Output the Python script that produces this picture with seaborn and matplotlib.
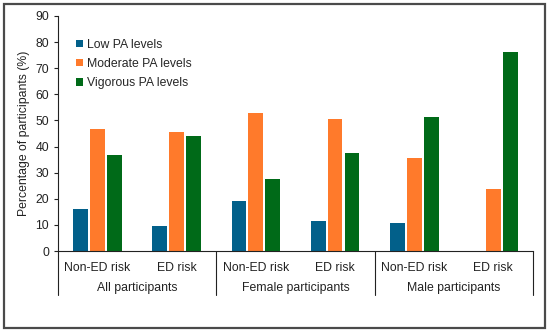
import matplotlib
matplotlib.use("Agg")
import matplotlib.pyplot as plt
import matplotlib.transforms as mtransforms
from matplotlib.patches import Rectangle
import seaborn as sns
import pandas as pd

groups = ["All participants", "Female participants", "Male participants"]
risks = ["Non-ED risk", "ED risk"]
levels = ["Low PA levels", "Moderate PA levels", "Vigorous PA levels"]
low_vals = [16.0, 9.7, 19.1, 11.7, 10.7, 0.0]
moderate_vals = [46.6, 45.7, 52.7, 50.4, 35.7, 23.6]
vigorous_vals = [36.8, 44.2, 27.5, 37.4, 51.4, 76.2]
colors = ["#02608A", "#FF7A2B", "#006A18"]

cats = [f"{g}|{r}" for g in groups for r in risks]
rows = []
for lvl, vals in zip(levels, [low_vals, moderate_vals, vigorous_vals]):
    for c, v in zip(cats, vals):
        rows.append({"cat": c, "level": lvl, "value": v})
df = pd.DataFrame(rows)

sns.set_style("ticks")
plt.rcParams["font.family"] = ["Liberation Sans", "DejaVu Sans"]

fig = plt.figure(figsize=(5.5, 3.33), dpi=100)
ax = fig.add_axes([0.1055, 0.246, 0.8635, 0.706])

sns.barplot(data=df, x="cat", y="value", hue="level", order=cats,
            hue_order=levels, palette=colors, width=0.64, gap=0.12,
            saturation=1, ax=ax, edgecolor="none")

fs = 8.8
ax.set_ylim(0, 90)
ax.set_yticks(range(0, 91, 10))
ax.set_xlim(-0.5, len(cats) - 0.5)
ax.set_xlabel("")
ax.set_ylabel("Percentage of participants (%)", fontsize=fs, color="#222222", labelpad=4)
ax.tick_params(axis="y", labelsize=fs, colors="#222222", length=3, width=0.8)
ax.set_xticks(range(len(cats)))
ax.set_xticklabels([c.split("|")[1] for c in cats], fontsize=fs, color="#222222")
ax.tick_params(axis="x", length=0, pad=8)
for s in ["top", "right"]:
    ax.spines[s].set_visible(False)
for s in ["left", "bottom"]:
    ax.spines[s].set_linewidth(0.8)
    ax.spines[s].set_color("#222222")

trans = mtransforms.blended_transform_factory(ax.transData, ax.transAxes)
for xb in [-0.5, 1.5, 3.5, 5.5]:
    ax.plot([xb, xb], [0, -0.185], transform=trans, color="#222222", lw=0.8, clip_on=False)
for i, g in enumerate(groups):
    ax.text(2 * i + 0.5, -0.155, g, transform=trans, ha="center", va="center",
            fontsize=fs, color="#222222")

leg = ax.legend(loc="upper left", bbox_to_anchor=(0.015, 0.95), frameon=False,
                fontsize=fs, handlelength=0.55, handleheight=0.55, handletextpad=0.3,
                labelspacing=0.6)

fig.patches.append(Rectangle((0.008, 0.015), 0.982, 0.972, transform=fig.transFigure,
                             fill=False, edgecolor="#4a4a4a", lw=1.6))

fig.savefig("out.png", dpi=100)
